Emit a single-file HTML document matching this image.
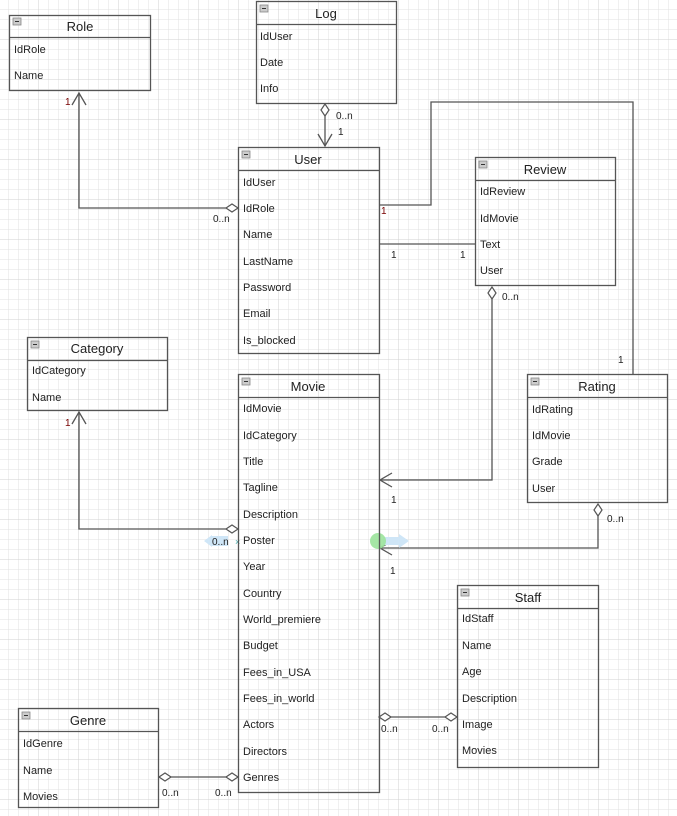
<!DOCTYPE html>
<html><head><meta charset="utf-8"><style>
html,body{margin:0;padding:0;background:#fff;}
svg{display:block;font-family:"Liberation Sans",sans-serif;}
.b{fill:none;stroke:#555;stroke-width:1.3}
.l{fill:none;stroke:#555;stroke-width:1.3}
.d{fill:#fff;stroke:#555;stroke-width:1.2}
.h{font-size:13px;fill:#222;text-anchor:middle}
.r{font-size:11px;fill:#222}
.m{font-size:10px;fill:#222}
.o{font-size:10px;fill:#700}
</style></head><body>
<svg width="677" height="816" viewBox="0 0 677 816" xmlns="http://www.w3.org/2000/svg">
<defs>
<pattern id="g" width="10" height="10" patternUnits="userSpaceOnUse" x="-2" y="-1">
<path d="M10 0H0V10" fill="none" stroke="#e2e2e2" stroke-width="1"/>
</pattern>
<pattern id="G" width="40" height="40" patternUnits="userSpaceOnUse" x="-2" y="-1">
<path d="M40 0H0V40" fill="none" stroke="#d2d2d2" stroke-width="1"/>
</pattern>
<g id="mi"><rect x="0" y="0" width="8" height="7" fill="#ccc" stroke="#888" stroke-width="0.8"/><line x1="2" y1="3.5" x2="6" y2="3.5" stroke="#333"/></g>
</defs>
<rect width="677" height="816" fill="url(#g)"/>
<rect width="677" height="816" fill="url(#G)"/>

<path class="l" d="M79 93V208H226"/>
<path class="l" d="M72 105L79 93L86 105"/>
<path class="d" d="M226 208L232 204L238 208L232 212Z"/>
<text class="o" x="65" y="105">1</text><text class="m" x="213" y="222">0..n</text>

<path class="l" d="M325 116V146"/>
<path class="l" d="M318 134L325 146L332 134"/>
<path class="d" d="M325 104L329 110L325 116L321 110Z"/>
<text class="m" x="336" y="119">0..n</text><text class="m" x="338" y="135">1</text>

<path class="l" d="M379 205H431V102H633V374"/>
<text class="o" x="381" y="214">1</text><text class="m" x="618" y="363">1</text>

<path class="l" d="M379 244H475"/>
<text class="m" x="391" y="258">1</text><text class="m" x="460" y="258">1</text>

<path class="l" d="M492 299V480H380"/>
<path class="d" d="M492 287L496 293L492 299L488 293Z"/>
<path class="l" d="M392 473L380 480L392 487"/>
<text class="m" x="502" y="300">0..n</text><text class="m" x="391" y="503">1</text>

<path class="l" d="M79 412V529H226"/>
<path class="l" d="M72 424L79 412L86 424"/>
<path class="d" d="M226 529L232 525L238 529L232 533Z"/>
<text class="o" x="65" y="426">1</text>

<path class="l" d="M598 516V548H380"/>
<path class="d" d="M598 504L602 510L598 516L594 510Z"/>
<path class="l" d="M392 541L380 548L392 555"/>
<text class="m" x="607" y="522">0..n</text><text class="m" x="390" y="574">1</text>

<path class="l" d="M379 717H457"/>
<path class="d" d="M379 717L385 713L391 717L385 721Z"/>
<path class="d" d="M445 717L451 713L457 717L451 721Z"/>
<text class="m" x="381" y="732">0..n</text><text class="m" x="432" y="732">0..n</text>

<path class="l" d="M158 777H238"/>
<path class="d" d="M159 777L165 773L171 777L165 781Z"/>
<path class="d" d="M226 777L232 773L238 777L232 781Z"/>
<text class="m" x="162" y="796">0..n</text><text class="m" x="215" y="796">0..n</text>

<path d="M204 541L212 535V547Z" fill="#cfe6f7"/>
<rect x="212" y="536" width="16" height="10" fill="#cfe6f7"/>
<text class="m" x="212" y="545">0..n</text>
<text x="235" y="545" font-size="9" fill="#4aa">×</text>
<rect x="383" y="537" width="16" height="8" fill="#cfe6f7"/>
<path d="M399 534L409 541L399 548Z" fill="#cfe6f7"/>
<circle cx="378" cy="541" r="8" fill="#9be39b" opacity="0.9"/>

<rect class="b" x="9.5" y="15.5" width="141" height="75"/><line class="b" x1="9.5" y1="37.5" x2="150.5" y2="37.5"/>
<use href="#mi" x="13" y="18"/><text class="h" x="80" y="31">Role</text>
<text class="r" x="14" y="53">IdRole</text><text class="r" x="14" y="79">Name</text>

<rect class="b" x="256.5" y="1.5" width="140" height="102"/><line class="b" x1="256.5" y1="24.5" x2="396.5" y2="24.5"/>
<use href="#mi" x="260" y="5"/><text class="h" x="326" y="18">Log</text>
<text class="r" x="260" y="40">IdUser</text><text class="r" x="260" y="66">Date</text><text class="r" x="260" y="92">Info</text>

<rect class="b" x="238.5" y="147.5" width="141" height="206"/><line class="b" x1="238.5" y1="170.5" x2="379.5" y2="170.5"/>
<use href="#mi" x="242" y="151"/><text class="h" x="308" y="164">User</text>
<g class="r"><text x="243" y="186">IdUser</text><text x="243" y="212">IdRole</text><text x="243" y="238">Name</text><text x="243" y="265">LastName</text><text x="243" y="291">Password</text><text x="243" y="317">Email</text><text x="243" y="344">Is_blocked</text></g>

<rect class="b" x="475.5" y="157.5" width="140" height="128"/><line class="b" x1="475.5" y1="180.5" x2="615.5" y2="180.5"/>
<use href="#mi" x="479" y="161"/><text class="h" x="545" y="174">Review</text>
<g class="r"><text x="480" y="195">IdReview</text><text x="480" y="222">IdMovie</text><text x="480" y="248">Text</text><text x="480" y="274">User</text></g>

<rect class="b" x="27.5" y="337.5" width="140" height="73"/><line class="b" x1="27.5" y1="360.5" x2="167.5" y2="360.5"/>
<use href="#mi" x="31" y="341"/><text class="h" x="97" y="353">Category</text>
<text class="r" x="32" y="374">IdCategory</text><text class="r" x="32" y="401">Name</text>

<rect class="b" x="238.5" y="374.5" width="141" height="418"/><line class="b" x1="238.5" y1="397.5" x2="379.5" y2="397.5"/>
<use href="#mi" x="242" y="378"/><text class="h" x="308" y="391">Movie</text>
<g class="r"><text x="243" y="412">IdMovie</text><text x="243" y="439">IdCategory</text><text x="243" y="465">Title</text><text x="243" y="491">Tagline</text><text x="243" y="518">Description</text><text x="243" y="544">Poster</text><text x="243" y="570">Year</text><text x="243" y="597">Country</text><text x="243" y="623">World_premiere</text><text x="243" y="649">Budget</text><text x="243" y="676">Fees_in_USA</text><text x="243" y="702">Fees_in_world</text><text x="243" y="728">Actors</text><text x="243" y="755">Directors</text><text x="243" y="781">Genres</text></g>

<rect class="b" x="527.5" y="374.5" width="140" height="128"/><line class="b" x1="527.5" y1="397.5" x2="667.5" y2="397.5"/>
<use href="#mi" x="531" y="378"/><text class="h" x="597" y="391">Rating</text>
<g class="r"><text x="532" y="413">IdRating</text><text x="532" y="439">IdMovie</text><text x="532" y="465">Grade</text><text x="532" y="492">User</text></g>

<rect class="b" x="457.5" y="585.5" width="141" height="182"/><line class="b" x1="457.5" y1="608.5" x2="598.5" y2="608.5"/>
<use href="#mi" x="461" y="589"/><text class="h" x="528" y="602">Staff</text>
<g class="r"><text x="462" y="622">IdStaff</text><text x="462" y="649">Name</text><text x="462" y="675">Age</text><text x="462" y="702">Description</text><text x="462" y="728">Image</text><text x="462" y="754">Movies</text></g>

<rect class="b" x="18.5" y="708.5" width="140" height="99"/><line class="b" x1="18.5" y1="731.5" x2="158.5" y2="731.5"/>
<use href="#mi" x="22" y="712"/><text class="h" x="88" y="725">Genre</text>
<g class="r"><text x="23" y="747">IdGenre</text><text x="23" y="774">Name</text><text x="23" y="800">Movies</text></g>
</svg>
</body></html>
